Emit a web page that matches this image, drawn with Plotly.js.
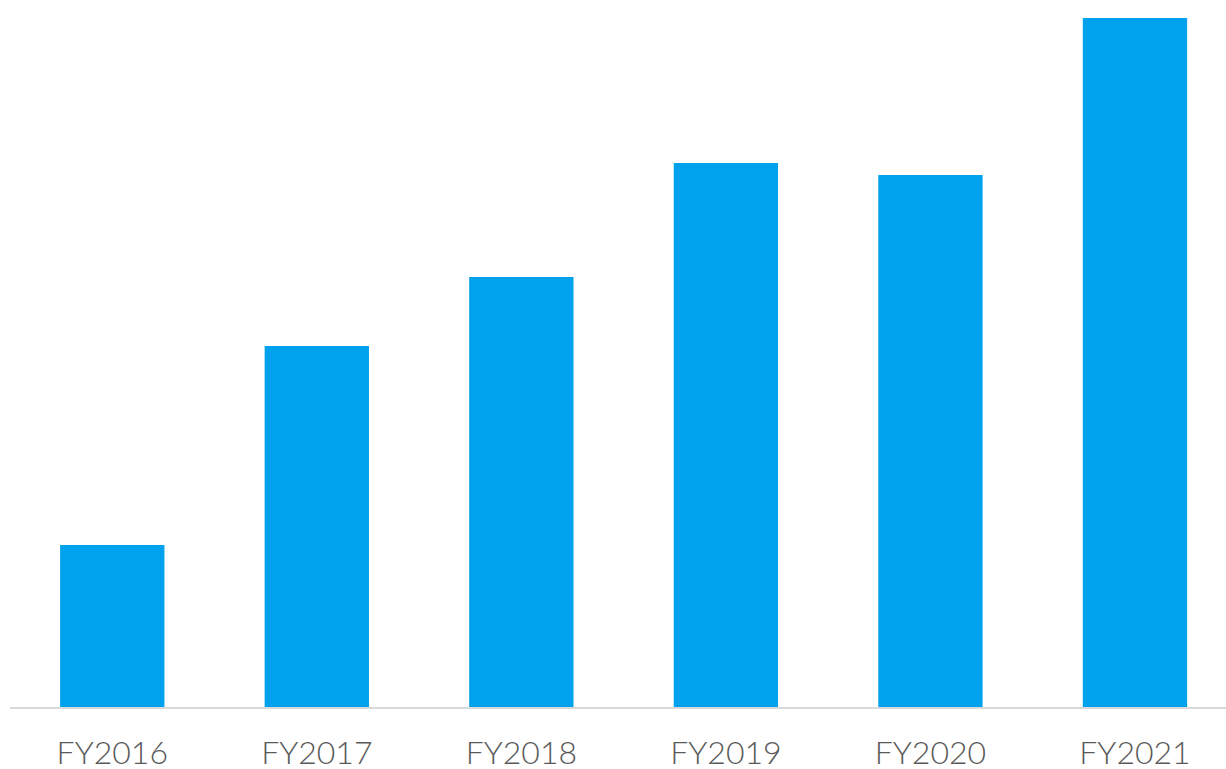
<!DOCTYPE html>
<html>
<head>
<meta charset="utf-8">
<script src="https://cdn.plot.ly/plotly-3.0.1.min.js"></script>
<style>html,body{margin:0;padding:0;background:#fff;}#chart{width:1226px;height:769px;}</style>
</head>
<body>
<div id="chart"></div>
<script>
const categories = ["FY2016", "FY2017", "FY2018", "FY2019", "FY2020", "FY2021"];
const values = [162, 361, 430, 544, 532, 689];

const trace = {
  type: "bar",
  x: categories,
  y: values,
  marker: { color: "#00A2EE" },
  hoverinfo: "x+y"
};

const layout = {
  width: 1226,
  height: 769,
  margin: { l: 10, r: 0, t: 0, b: 62 },
  paper_bgcolor: "#ffffff",
  plot_bgcolor: "#ffffff",
  bargap: 0.49,
  showlegend: false,
  xaxis: {
    type: "category",
    range: [-0.5, 5.445],
    showgrid: false,
    zeroline: false,
    showline: true,
    linecolor: "#d9d9d9",
    linewidth: 2,
    ticks: "",
    ticklabelstandoff: 17,
    tickfont: { family: "Lato, 'Open Sans', sans-serif", size: 32, weight: 300, color: "#595959" }
  },
  yaxis: {
    range: [0, 707],
    visible: false,
    showgrid: false,
    zeroline: false
  }
};

Plotly.newPlot("chart", [trace], layout, { displayModeBar: false, staticPlot: true });
</script>
</body>
</html>
